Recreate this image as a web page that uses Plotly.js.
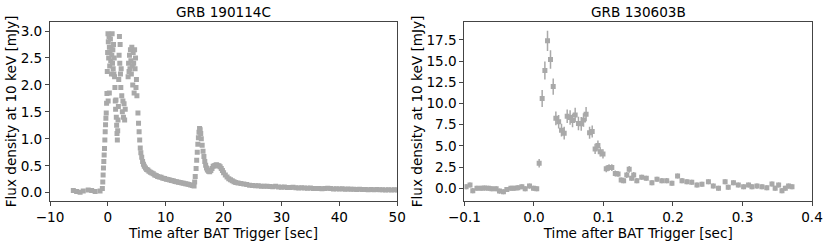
<!DOCTYPE html>
<html>
<head>
<meta charset="utf-8">
<script src="https://cdn.plot.ly/plotly-3.0.1.min.js"></script>
<style>html,body{margin:0;padding:0;background:#fff;}#chart{width:830px;height:244px;}</style>
</head>
<body>
<div id="chart"></div>
<script>
// ---- GRB 190114C (left panel) ----
const grbA_name = "GRB 190114C";
const grbA_time = [
  -5.97, -5.4, -4.8, -4.25, -3.4, -2.8, -2.2, -1.35,
  -0.95, -0.88, -0.82, -0.76, -0.70, -0.64, -0.58, -0.52, -0.46, -0.40, -0.34, -0.28, -0.22, -0.16,
  -0.10, -0.04, 0.02, 0.05, 0.08, 0.14, 0.20, 0.25, 0.26, 0.32, 0.38, 0.44, 0.50, 0.56, 0.62, 0.68, 0.74, 0.80, 0.86, 0.92, 0.98, 1.04, 1.10, 1.16,
  1.22, 1.28, 1.34, 1.40, 1.46, 1.52, 1.58, 1.64, 1.70, 1.76,
  1.82, 1.88, 1.94, 2.0, 2.06, 2.12, 2.18, 2.24, 2.3,
  2.4, 2.5, 2.6, 2.7, 2.8, 2.9, 3.0,
  3.5, 3.58, 3.66, 3.74, 3.82, 3.9, 3.98, 4.06, 4.14, 4.22, 4.3, 4.38, 4.46, 4.54, 4.62, 4.7, 4.78, 4.86, 4.94, 5.02,
  5.2, 5.3, 5.4, 5.5, 5.6,
  5.7, 5.85, 6.0, 6.15, 6.3, 6.5, 6.7, 6.9, 7.1, 7.35, 7.6, 7.85, 8.1, 8.35, 8.6, 8.9, 9.2, 9.5, 9.8, 10.1, 10.4, 10.7, 11.0, 11.3, 11.6, 11.9, 12.2, 12.5, 12.8, 13.1, 13.4, 13.7, 14.0, 14.3, 14.6, 14.9,
  15.0, 15.1, 15.25, 15.35, 15.45, 15.55, 15.65, 15.75, 15.85, 15.95, 16.05, 16.15, 16.3, 16.45, 16.6, 16.75, 16.9, 17.05, 17.2, 17.4, 17.6, 17.8, 18.0, 18.2, 18.4, 18.6, 18.8, 19.0, 19.2, 19.4, 19.6, 19.8, 20.0, 20.3, 20.6, 20.9, 21.2, 21.5, 21.8, 22.1, 22.5, 23.0, 23.5, 24.0, 24.5,
  25.0, 25.5, 26.0, 26.5, 27.0, 27.5, 28.0, 28.5, 29.0, 29.5, 30.0, 30.5, 31.0, 31.5, 32.0, 32.5, 33.0, 33.5, 34.0, 34.5, 35.0, 35.5, 36.0, 36.5, 37.0, 37.5, 38.0, 38.5, 39.0, 39.5, 40.0, 40.5, 41.0, 41.5, 42.0, 42.5, 43.0, 43.5, 44.0, 44.5, 45.0, 45.5, 46.0, 46.5, 47.0, 47.5, 48.0, 48.5, 49.0, 49.5, 50.0
];
const grbA_flux = [
  0.04, 0.02, 0.01, 0.03, 0.05, 0.04, 0.02, 0.03,
  0.08, 0.2, 0.33, 0.46, 0.58, 0.7, 0.82, 0.98, 1.13, 1.26, 1.38, 1.48, 1.66, 1.84,
  2.25, 2.6, 2.95, 1.7, 2.8, 2.5, 2.9, 1.85, 2.7, 2.35, 2.6, 2.85, 2.45, 2.7, 2.2, 2.55, 2.95, 2.4, 2.65, 2.3, 2.75, 2.2, 2.5, 2.15,
  1.95, 1.7, 1.55, 1.72, 1.4, 1.25, 1.1, 0.98, 1.15, 1.35,
  1.6, 2.1, 2.55, 2.9, 2.4, 2.75, 2.2, 1.95, 2.3,
  1.8, 1.5, 1.7, 1.4, 1.65, 1.35, 1.55,
  2.15, 2.4, 2.25, 2.55, 2.3, 2.65, 2.45, 2.2, 2.7, 2.35, 2.0, 2.6, 2.4, 1.85, 2.65, 2.3, 2.5, 1.95, 2.1, 1.8,
  1.48, 1.29, 1.13, 0.98, 0.83,
  0.74, 0.66, 0.58, 0.53, 0.49, 0.46, 0.43, 0.42, 0.40, 0.38, 0.365, 0.35, 0.33, 0.32, 0.30, 0.29, 0.285, 0.27, 0.265, 0.25, 0.245, 0.235, 0.225, 0.22, 0.21, 0.205, 0.195, 0.19, 0.18, 0.175, 0.165, 0.16, 0.15, 0.145, 0.135, 0.125,
  0.2, 0.3, 0.45, 0.6, 0.75, 0.9, 1.02, 1.12, 1.19, 1.17, 1.1, 1.0, 0.88, 0.77, 0.67, 0.58, 0.51, 0.46, 0.42, 0.40, 0.39, 0.41, 0.45, 0.49, 0.5, 0.51, 0.52, 0.5, 0.5, 0.48, 0.45, 0.41, 0.37, 0.33, 0.29, 0.26, 0.24, 0.22, 0.205, 0.19, 0.18, 0.17, 0.16, 0.15, 0.14,
  0.135, 0.13, 0.128, 0.12, 0.118, 0.12, 0.115, 0.11, 0.118, 0.108, 0.1, 0.105, 0.098, 0.095, 0.1, 0.092, 0.088, 0.09, 0.085, 0.082, 0.086, 0.08, 0.078, 0.08, 0.075, 0.078, 0.082, 0.076, 0.07, 0.074, 0.068, 0.072, 0.065, 0.068, 0.062, 0.066, 0.06, 0.063, 0.058, 0.061, 0.056, 0.06, 0.055, 0.058, 0.053, 0.056, 0.052, 0.055, 0.05, 0.054, 0.05
];
const grbA_err = 0.03;

// ---- GRB 130603B (right panel) ----
const grbB_name = "GRB 130603B";
const grbB_time = [
  -0.0976, -0.092, -0.088, -0.082, -0.076, -0.071, -0.0655, -0.0606, -0.0544, -0.0496, -0.0439, -0.039, -0.0332, -0.0285, -0.0231, -0.0174, -0.0126, -0.0064, -0.0007, 0.004,
  0.0075, 0.0118, 0.0157, 0.0195, 0.0238, 0.0277, 0.0315, 0.0355, 0.0396, 0.0435, 0.0478, 0.052, 0.0555, 0.0593, 0.064, 0.068, 0.0713, 0.075, 0.080, 0.0838,
  0.088, 0.092, 0.0953, 0.0993, 0.104, 0.108, 0.112, 0.117, 0.121, 0.1255, 0.129,
  0.1335, 0.137, 0.1405, 0.1435, 0.148, 0.155, 0.1616, 0.1697, 0.177, 0.184, 0.191, 0.1985, 0.2066, 0.213, 0.220, 0.227, 0.2345, 0.2417, 0.251, 0.258, 0.2655, 0.275, 0.2795,
  0.287, 0.294, 0.3016, 0.3087, 0.3136, 0.3208, 0.328, 0.335, 0.3424, 0.347, 0.352, 0.3568, 0.3616, 0.3663, 0.3712
];
const grbB_flux = [
  0.19, 0.39, -0.28, 0.0, 0.0, 0.02, 0.0, -0.05, -0.05, -0.33, -0.4, -0.15, 0.0, 0.0, 0.05, 0.19, -0.05, 0.26, 0.0, -0.05,
  2.95, 10.6, 13.9, 17.4, 15.2, 12.0, 8.25, 7.85, 6.85, 6.5, 8.5, 8.35, 8.0, 8.65, 7.65, 7.6, 8.05, 8.75, 6.55, 6.7,
  4.65, 5.05, 4.3, 4.05, 2.3, 2.45, 2.45, 1.75, 1.7, 0.98, 0.9,
  1.57, 2.24, 1.18, 1.57, 0.9, 1.3, 1.18, 0.66, 1.06, 0.9, 0.9, 0.59, 1.45, 0.9, 0.78, 0.71, 0.39, 0.47, 0.78, 0.27, 0.0, 0.78, 0.12,
  0.66, 0.39, 0.19, 0.39, 0.19, 0.26, 0.19, 0.07, 0.5, 0.0, 0.39, -0.28, 0.0, 0.26, 0.19
];
const grbB_err = [
  0.3, 0.3, 0.3, 0.3, 0.3, 0.3, 0.3, 0.3, 0.3, 0.3, 0.3, 0.3, 0.3, 0.3, 0.3, 0.3, 0.3, 0.3, 0.3, 0.3,
  0.5, 1.0, 1.05, 1.2, 1.1, 0.95, 0.8, 0.8, 0.75, 0.75, 0.8, 0.85, 0.8, 0.85, 0.8, 0.8, 0.8, 0.85, 0.7, 0.7,
  0.6, 0.6, 0.55, 0.55, 0.4, 0.4, 0.4, 0.35, 0.35, 0.3, 0.3,
  0.35, 0.4, 0.3, 0.35, 0.3, 0.3, 0.3, 0.3, 0.3, 0.3, 0.3, 0.3, 0.3, 0.3, 0.3, 0.3, 0.3, 0.3, 0.3, 0.3, 0.3, 0.3, 0.3,
  0.3, 0.3, 0.3, 0.3, 0.3, 0.3, 0.3, 0.3, 0.3, 0.3, 0.3, 0.3, 0.3, 0.3, 0.3
];

const xTitle = "Time after BAT Trigger [sec]";
const yTitle = "Flux density at 10 keV [mJy]";
const pointColor = "#a9a9a9";
const font = "DejaVu Sans, sans-serif";
const fs = 13.6;

const traces = [
  {
    x: grbA_time, y: grbA_flux, type: "scatter", mode: "markers",
    marker: {symbol: "square", size: 5, color: pointColor},
    error_y: {type: "constant", value: grbA_err, color: pointColor, thickness: 1.5, width: 0},
    xaxis: "x", yaxis: "y", showlegend: false, hoverinfo: "skip"
  },
  {
    x: grbB_time, y: grbB_flux, type: "scatter", mode: "markers",
    marker: {symbol: "square", size: 5, color: pointColor},
    error_y: {type: "data", array: grbB_err, visible: true, color: pointColor, thickness: 1.5, width: 0},
    xaxis: "x2", yaxis: "y2", showlegend: false, hoverinfo: "skip"
  }
];

const axBase = {
  showline: true, mirror: true, linecolor: "#444", linewidth: 1,
  ticks: "outside", ticklen: 4, tickwidth: 1, tickcolor: "#444",
  showgrid: false, zeroline: false,
  tickfont: {family: font, size: fs, color: "#000"},
  automargin: false
};

const layout = {
  width: 830, height: 244,
  margin: {l: 50, r: 18, t: 22, b: 43},
  paper_bgcolor: "#fff", plot_bgcolor: "#fff",
  font: {family: font, size: fs, color: "#000"},
  xaxis: Object.assign({}, axBase, {
    domain: [0, 0.4556], range: [-10, 50], dtick: 10, tick0: 0,
    title: {text: xTitle, font: {family: font, size: fs, color: "#000"}, standoff: 1}
  }),
  yaxis: Object.assign({}, axBase, {
    domain: [0, 1], range: [-0.154, 3.167], dtick: 0.5, tick0: 0, tickformat: ".1f",
    title: {text: yTitle, font: {family: font, size: fs, color: "#000"}, standoff: 0}
  }),
  xaxis2: Object.assign({}, axBase, {
    domain: [0.5439, 1], range: [-0.1, 0.4], dtick: 0.1, tick0: 0, tickformat: ".1f", anchor: "y2",
    title: {text: xTitle, font: {family: font, size: fs, color: "#000"}, standoff: 1}
  }),
  yaxis2: Object.assign({}, axBase, {
    domain: [0, 1], range: [-1.5, 19.62], dtick: 2.5, tick0: 0, tickformat: ".1f", anchor: "x2",
    title: {text: yTitle, font: {family: font, size: fs, color: "#000"}, standoff: 0}
  }),
  annotations: [
    {text: grbA_name, xref: "x domain", yref: "paper", x: 0.5, y: 1, xanchor: "center", yanchor: "bottom", yshift: 0, showarrow: false, font: {family: font, size: fs, color: "#000"}},
    {text: grbB_name, xref: "x2 domain", yref: "paper", x: 0.5, y: 1, xanchor: "center", yanchor: "bottom", yshift: 0, showarrow: false, font: {family: font, size: fs, color: "#000"}}
  ]
};

Plotly.newPlot("chart", traces, layout, {staticPlot: true, displayModeBar: false});
</script>
</body>
</html>
